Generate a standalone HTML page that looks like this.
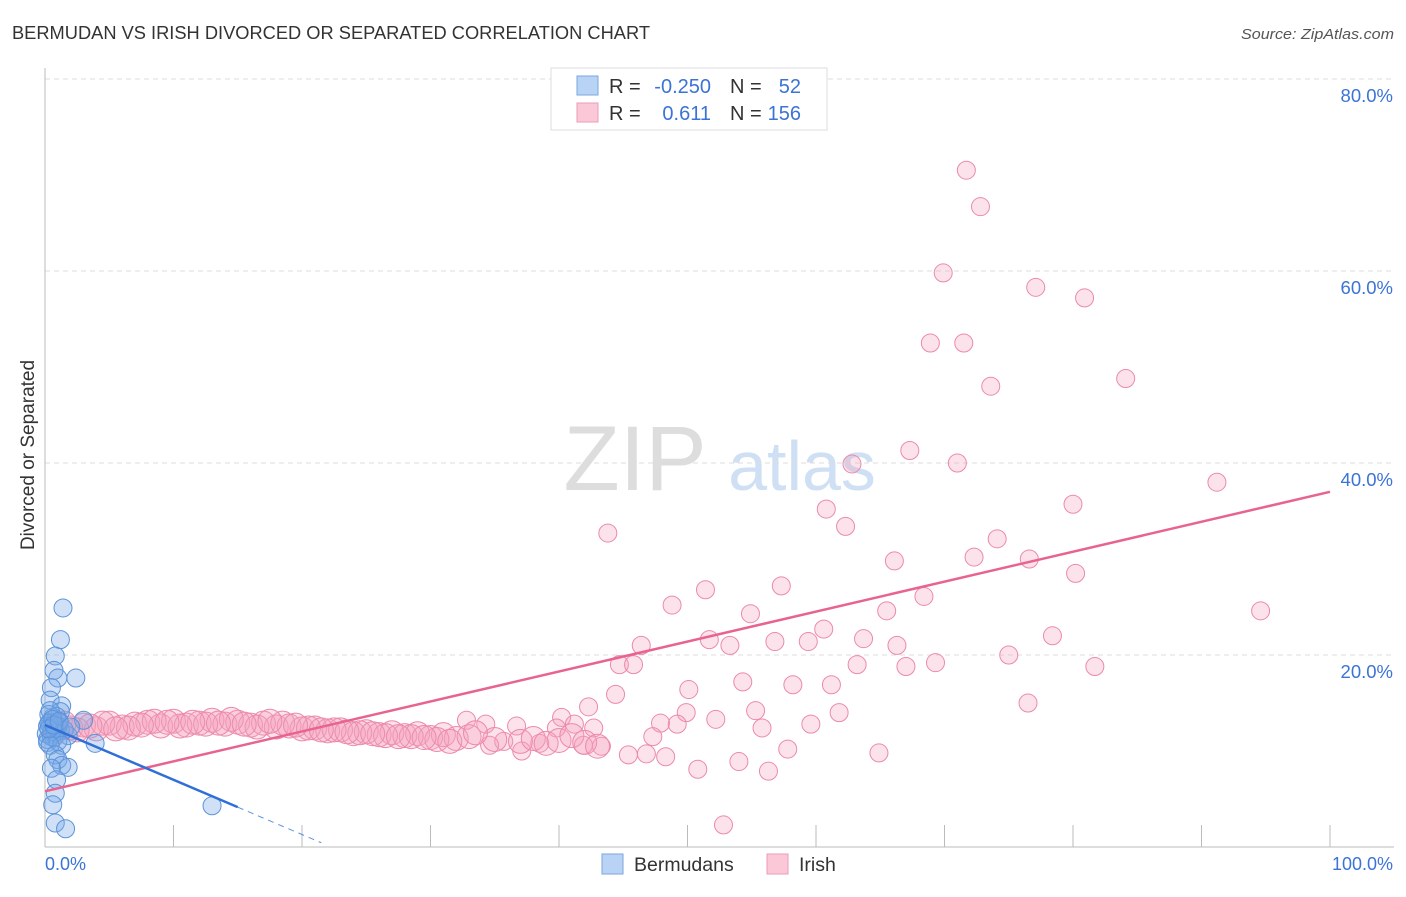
<!DOCTYPE html>
<html><head><meta charset="utf-8"><style>
body{margin:0;background:#fff;font-family:"Liberation Sans",sans-serif}
svg text{font-family:"Liberation Sans",sans-serif}
</style></head><body>
<svg id="c" width="1406" height="892">
<text x="12" y="39" font-size="18" fill="#333" textLength="638" lengthAdjust="spacingAndGlyphs">BERMUDAN VS IRISH DIVORCED OR SEPARATED CORRELATION CHART</text>
<text x="1394" y="39" font-size="15" font-style="italic" fill="#555" text-anchor="end" textLength="153" lengthAdjust="spacingAndGlyphs">Source: ZipAtlas.com</text>
<text x="34" y="455" font-size="19" fill="#333" text-anchor="middle" transform="rotate(-90 34 455)">Divorced or Separated</text>
<g><text x="635" y="490" font-size="92" font-family="Liberation Serif" fill="#ddd" text-anchor="middle">ZIP</text><text x="802" y="490" font-size="70" fill="#cfe0f4" text-anchor="middle">atlas</text></g>
<g id="grid"></g><g id="pts"></g><g id="lines"></g>
<g>
<rect x="551" y="68" width="276" height="62" fill="#fff" stroke="#ddd"/>
<rect x="577" y="76" width="21" height="19" fill="#b9d3f5" stroke="#7aa7e0"/>
<rect x="577" y="103" width="21" height="19" fill="#fbc8d8" stroke="#ee9bb6"/>
<text x="609" y="93" font-size="20" fill="#333">R = </text><text x="711" y="93" font-size="20" fill="#3b73d6" text-anchor="end">-0.250</text>
<text x="730" y="93" font-size="20" fill="#333">N = </text><text x="801" y="93" font-size="20" fill="#3b73d6" text-anchor="end">52</text>
<text x="609" y="120" font-size="20" fill="#333">R = </text><text x="711" y="120" font-size="20" fill="#3b73d6" text-anchor="end">0.611</text>
<text x="730" y="120" font-size="20" fill="#333">N = </text><text x="801" y="120" font-size="20" fill="#3b73d6" text-anchor="end">156</text>
</g>
<g>
<rect x="602" y="854" width="21" height="20" fill="#b9d3f5" stroke="#7aa7e0"/><text x="634" y="871" font-size="19.5" fill="#333">Bermudans</text>
<rect x="767" y="854" width="21" height="20" fill="#fbc8d8" stroke="#ee9bb6"/><text x="799" y="871" font-size="19.5" fill="#333">Irish</text>
</g>
<text x="45" y="870" font-size="18" fill="#3b73d6">0.0%</text>
<text x="1393" y="870" font-size="18" fill="#3b73d6" text-anchor="end">100.0%</text>
</svg>
<script>
const yTicks=[20,40,60,80];
const yTickLabels=["20.0%","40.0%","60.0%","80.0%"];
const xTicks=[10,20,30,40,50,60,70,80,90,100];
const blueX=[1.4,1.2,0.8,0.7,1.0,2.4,0.5,0.4,1.3,1.2,3.0,0.6,0.4,0.2,0.8,0.5,0.1,1.2,1.8,0.3,0.9,0.6,1.1,0.2,0.7,1.0,0.4,0.3,1.5,0.8,0.5,0.2,1.0,0.6,3.9,1.3,0.4,0.8,1.0,1.3,1.8,0.5,0.9,0.8,0.6,0.8,1.6,13.0,0.3,0.7,1.1,2.0];
const blueY=[24.9,21.6,19.9,18.4,17.6,17.6,16.6,15.3,14.7,14.1,13.2,13.5,13.0,12.6,12.4,12.0,11.8,12.2,11.6,13.8,13.6,12.8,13.0,11.2,11.4,12.6,14.2,12.9,12.2,11.9,11.5,10.9,11.0,13.3,10.8,10.6,10.6,9.6,9.1,8.5,8.3,8.2,7.0,5.6,4.4,2.5,1.9,4.3,12.3,12.7,13.1,12.5];
const pinkX=[71.7,72.8,69.9,77.1,80.9,68.9,71.5,73.6,84.1,67.3,62.8,71.0,91.2,80.0,60.8,62.3,43.8,74.1,72.3,66.1,76.6,57.3,51.4,80.2,68.4,48.8,54.9,65.5,94.6,60.6,51.7,46.4,53.3,56.8,59.4,63.7,66.3,78.4,75.0,44.7,45.8,63.2,67.0,69.3,81.7,54.3,58.2,61.2,50.1,44.4,76.5,42.3,55.3,49.9,61.8,52.2,40.2,32.8,34.3,36.7,47.9,49.2,41.2,42.7,55.8,59.6,39.8,47.3,35.7,34.6,37.1,38.5,41.9,43.3,45.4,46.8,48.3,57.8,64.9,50.8,54.0,56.3,52.8,
1,2,3,4,5,6,7,8,9,10,11,12,13,14,15,16,17,18,19,20,21,22,23,24,25,26,27,28,29,30,31,32,2.5,4.5,6.5,8.5,10.5,12.5,14.5,16.5,18.5,20.5,22.5,24.5,26.5,28.5,30.5,3.5,7.5,11.5,15.5,19.5,23.5,27.5,31.5,9.5,13.5,17.5,21.5,25.5,29.5,1.5,5.5,33,35,37,38,39,40,41,42,43,0.8,33.5];
const pinkY=[70.5,66.7,59.8,58.3,57.2,52.5,52.5,48.0,48.8,41.3,39.9,40.0,38.0,35.7,35.2,33.4,32.7,32.1,30.2,29.8,30.0,27.2,26.8,28.5,26.1,25.2,24.3,24.6,24.6,22.7,21.6,21.0,21.0,21.4,21.4,21.7,21.0,22.0,20.0,19.0,19.0,19.0,18.8,19.2,18.8,17.2,16.9,16.9,16.4,15.9,15.0,14.6,14.2,14.0,14.0,13.3,13.5,13.2,12.8,12.6,12.9,12.8,12.8,12.4,12.4,12.8,12.4,11.5,11.0,10.6,10.0,10.8,10.6,10.5,9.6,9.7,9.4,10.2,9.8,8.1,8.9,7.9,2.3,
12.6,12.4,12.7,12.3,12.9,12.5,12.8,13.0,12.6,13.1,12.7,12.9,13.2,12.8,13.0,12.7,12.9,12.5,12.6,12.3,12.4,12.1,12.2,11.8,12.0,11.7,11.9,11.6,11.8,11.4,11.7,11.3,12.2,12.9,12.4,13.1,12.6,12.8,13.3,12.5,12.9,12.4,12.2,11.9,11.6,11.5,11.2,12.6,12.7,13.0,12.8,12.7,12.0,11.5,11.0,13.0,12.9,13.1,12.2,11.8,11.4,12.9,12.3,11.5,11.2,11.0,11.3,10.8,11.1,11.6,10.9,10.5,12.0,11.9];
const X0=45,X1=1330,Y0=847,PY=9.6;
const xs=v=>X0+(X1-X0)*v/100, ys=v=>Y0-v*PY;
const NS="http://www.w3.org/2000/svg";
function mk(t,a,p){const e=document.createElementNS(NS,t);for(const k in a)e.setAttribute(k,a[k]);p.appendChild(e);return e;}
const g=document.getElementById('grid');
yTicks.forEach((t,i)=>{
 const l=mk('line',{x1:45,x2:1394,y1:ys(t),y2:ys(t),stroke:'#ddd','stroke-dasharray':'5,4'},g);
 
 
 const tx=mk('text',{x:1393,y:ys(t)+23,'font-size':18.5,fill:'#3b73d6','text-anchor':'end'},g);
 tx.textContent=yTickLabels[i];
 
 
});
const ax=mk('line',{x1:45,x2:45,y1:68,y2:847,stroke:'#bbb'},g);


const bx=mk('line',{x1:45,x2:1394,y1:847,y2:847,stroke:'#bbb'},g);


xTicks.forEach(t=>{
 const l=mk('line',{x1:xs(t),x2:xs(t),y1:825,y2:847,stroke:'#bbb'},g);
 
 
});
const p=document.getElementById('pts');
pinkX.forEach((x,i)=>{
 const big=i>=83;
 const c=mk('circle',{cx:xs(x),cy:ys(pinkY[i]),r:big?12:9,fill:'rgba(246,160,190,0.3)',stroke:'#ec8aab','stroke-width':1},p);
 
 
});
blueX.forEach((x,i)=>{
 const c=mk('circle',{cx:xs(x),cy:ys(blueY[i]),r:9,fill:'rgba(120,170,232,0.35)',stroke:'#5b93d9','stroke-width':1},p);
 
 
});
const L=document.getElementById('lines');
const pinkA=5.8,pinkB=0.312,blueA=12.7,blueB=-0.57;
const pl=mk('line',{x1:xs(0),y1:ys(pinkA),x2:xs(100),y2:ys(pinkA+pinkB*100),stroke:'#e8648e','stroke-width':2.5},L);


const bl=mk('line',{x1:xs(0),y1:ys(blueA),x2:xs(15),y2:ys(blueA+blueB*15),stroke:'#2f6fd6','stroke-width':2.5},L);


const bd=mk('line',{x1:xs(15),y1:ys(blueA+blueB*15),x2:xs(21.5),y2:ys(blueA+blueB*21.5),stroke:'#5b93d9','stroke-width':1,'stroke-dasharray':'6,5'},L);


</script>
</body></html>
